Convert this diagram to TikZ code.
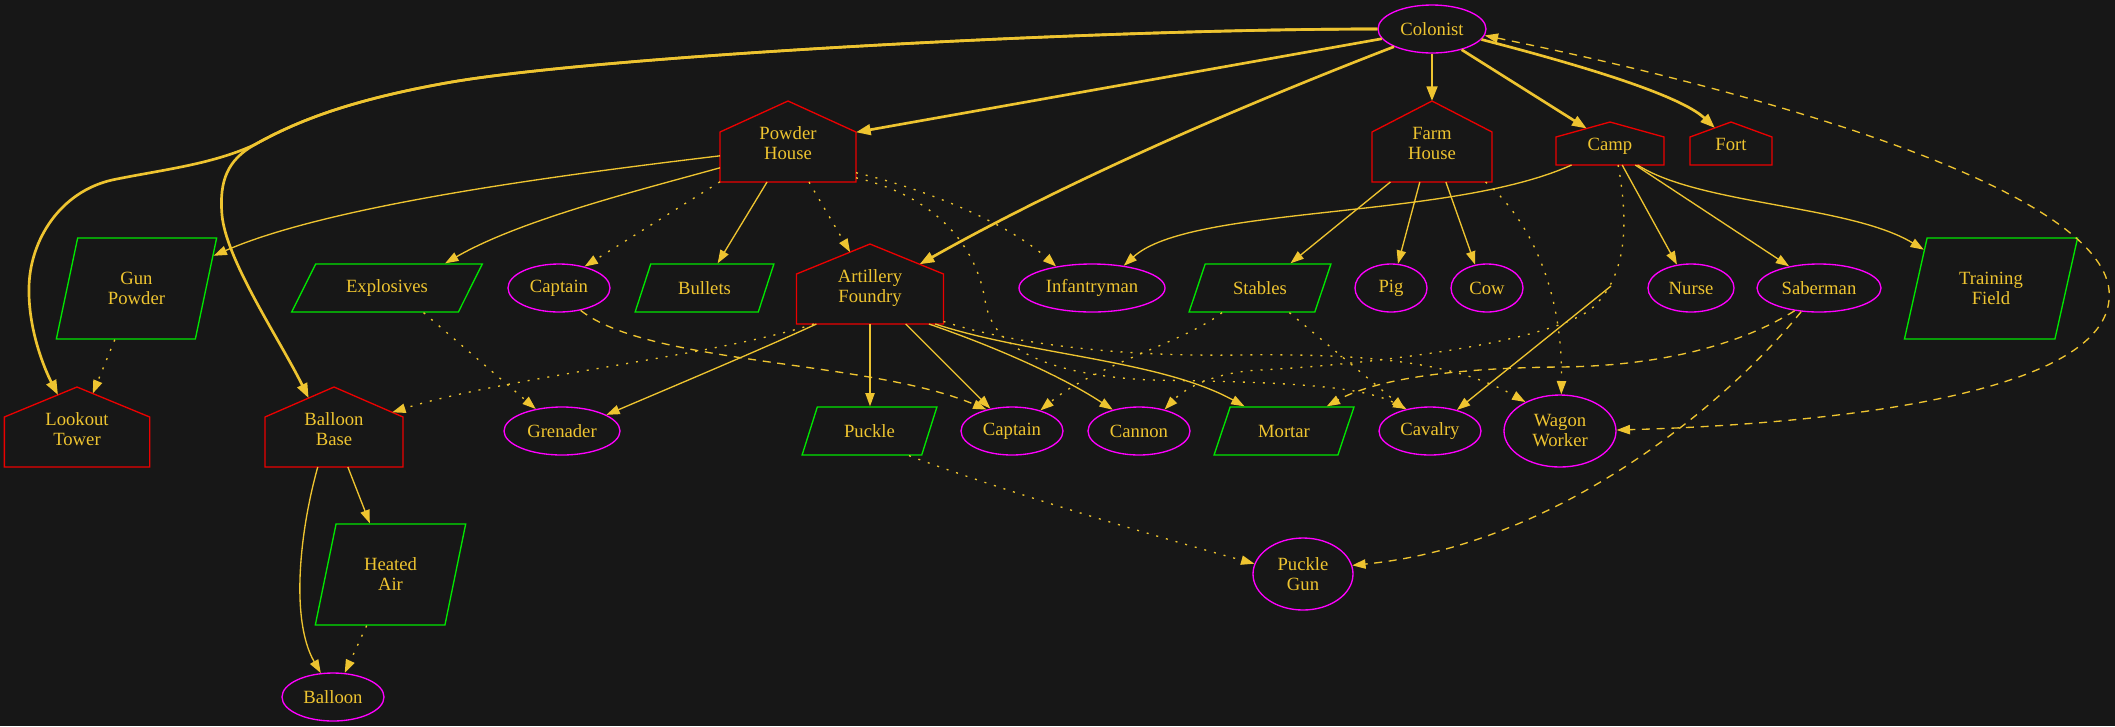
\documentclass[tikz,border=0pt]{standalone}
\usepackage{fontspec}
\setmainfont{Liberation Serif}
\usetikzlibrary{shapes.geometric,arrows.meta}

\definecolor{canvas}{RGB}{23,23,23}
\definecolor{gold}{RGB}{238,196,48}
\definecolor{ovalline}{RGB}{255,0,255}
\definecolor{houseline}{RGB}{235,0,0}
\definecolor{paraline}{RGB}{0,230,0}

% A house: walls of size minimum width x minimum height round the text,
% with a gable roof of height /pgf/house roof on top.
\makeatletter
\pgfkeys{/pgf/house roof/.initial=20pt}
\newdimen\house@xl \newdimen\house@xr \newdimen\house@xm
\newdimen\house@yb \newdimen\house@ys \newdimen\house@yp
\pgfdeclareshape{gvhouse}{%
  \savedanchor\housecenter{%
    \pgf@x=.5\wd\pgfnodeparttextbox
    \pgf@y=.5\ht\pgfnodeparttextbox
    \advance\pgf@y by -.5\dp\pgfnodeparttextbox
  }%
  \savedanchor\househalf{%
    \pgfmathsetlength\pgf@xc{\pgfkeysvalueof{/pgf/minimum width}}%
    \pgfmathsetlength\pgf@yc{\pgfkeysvalueof{/pgf/minimum height}}%
    \pgf@x=.5\pgf@xc
    \pgf@y=.5\pgf@yc
  }%
  \saveddimen\houseroof{\pgfmathsetlength\pgf@x{\pgfkeysvalueof{/pgf/house roof}}}%
  \anchor{center}{\housecenter}%
  \anchor{text}{\pgfpointorigin}%
  \anchor{north}{\househalf \pgf@ya=\pgf@y \advance\pgf@ya by\houseroof \housecenter \advance\pgf@y by\pgf@ya}%
  \anchor{south}{\househalf \pgf@ya=-\pgf@y \housecenter \advance\pgf@y by\pgf@ya}%
  \anchor{east}{\househalf \pgf@xa=\pgf@x \housecenter \advance\pgf@x by\pgf@xa}%
  \anchor{west}{\househalf \pgf@xa=-\pgf@x \housecenter \advance\pgf@x by\pgf@xa}%
  \backgroundpath{%
    \househalf \pgf@xa=\pgf@x \pgf@ya=\pgf@y
    \housecenter
    \house@xl=\pgf@x \advance\house@xl by -\pgf@xa
    \house@xr=\pgf@x \advance\house@xr by \pgf@xa
    \house@xm=\pgf@x
    \house@yb=\pgf@y \advance\house@yb by -\pgf@ya
    \house@ys=\pgf@y \advance\house@ys by \pgf@ya
    \house@yp=\house@ys \advance\house@yp by \houseroof
    \pgfpathmoveto{\pgfqpoint{\house@xl}{\house@yb}}%
    \pgfpathlineto{\pgfqpoint{\house@xr}{\house@yb}}%
    \pgfpathlineto{\pgfqpoint{\house@xr}{\house@ys}}%
    \pgfpathlineto{\pgfqpoint{\house@xm}{\house@yp}}%
    \pgfpathlineto{\pgfqpoint{\house@xl}{\house@ys}}%
    \pgfpathclose
  }%
  \anchorborder{%
    \edef\house@dx{\pgf@sys@tonumber\pgf@x}%
    \edef\house@dy{\pgf@sys@tonumber\pgf@y}%
    \househalf
    \edef\house@w{\pgf@sys@tonumber\pgf@x}%
    \edef\house@h{\pgf@sys@tonumber\pgf@y}%
    \pgf@x=\houseroof
    \edef\house@r{\pgf@sys@tonumber\pgf@x}%
    \pgfmathsetmacro\house@t{min(\house@w/max(abs(\house@dx),0.01),\house@h/max(-(\house@dy),0.01),(\house@h+\house@r)/max(\house@r*abs(\house@dx)/\house@w+\house@dy,0.01))}%
    \pgfmathsetmacro\house@px{\house@t*(\house@dx)}%
    \pgfmathsetmacro\house@py{\house@t*(\house@dy)}%
    \housecenter
    \advance\pgf@x by \house@px pt
    \advance\pgf@y by \house@py pt
  }%
}
\makeatother

% label of a house: text lifted towards the roof
\newcommand\roomlabel[2]{\raisebox{#1}[\height][\depth]{\begin{tabular}{@{}c@{}}#2\end{tabular}}}

\tikzset{
  every node/.style={text=gold, font=\fontsize{14}{15}\selectfont, inner sep=0pt, align=center},
  oval/.style={ellipse, draw=ovalline, line width=1pt, minimum height=36pt},
  housebox/.style={shape=gvhouse, draw=houseline, line width=1pt, anchor=south},
  para/.style={trapezium, trapezium stretches=true, draw=paraline, line width=1pt, minimum height=36pt},
  link/.style={draw=gold, line width=1pt, -{Triangle[length=10pt,width=7pt]}},
  heavy/.style={draw=gold, line width=2pt, -{Triangle[length=11pt,width=8pt]}},
  dotlink/.style={dash pattern=on 1.5pt off 6pt},
  dashlink/.style={dash pattern=on 6pt off 5pt},
}

\begin{document}
\begin{tikzpicture}[x=0.75pt, y=-0.75pt]
\useasboundingbox (0,0) rectangle (2115,726);
\fill[canvas] (0,0) rectangle (2115,726);

% ---------- nodes ----------
\node[oval, minimum width=81pt] (col) at (1432,29) {Colonist};

\node[housebox, minimum width=102pt, minimum height=37.5pt, house roof=23.25pt] (ph) at (788,182) {\roomlabel{8.5pt}{Powder\\House}};
\node[housebox, minimum width=90pt, minimum height=37.5pt, house roof=23.25pt] (fh) at (1432,182) {\roomlabel{8.5pt}{Farm\\House}};
\node[housebox, minimum width=81pt, minimum height=21pt, house roof=11.25pt] (camp) at (1610,165) {\roomlabel{3.75pt}{Camp}};
\node[housebox, minimum width=61.5pt, minimum height=21pt, house roof=11.25pt] (fort) at (1731,165) {\roomlabel{3.75pt}{Fort}};
\node[housebox, minimum width=110.25pt, minimum height=37.5pt, house roof=22.5pt] (af) at (870,324) {\roomlabel{8pt}{Artillery\\Foundry}};
\node[housebox, minimum width=109pt, minimum height=37.5pt, house roof=22.5pt] (lt) at (77,467) {\roomlabel{8pt}{Lookout\\Tower}};
\node[housebox, minimum width=103.5pt, minimum height=37.5pt, house roof=22.5pt] (bb) at (334,467) {\roomlabel{8pt}{Balloon\\Base}};

\node[para, minimum width=120.75pt, minimum height=75.75pt, trapezium left angle=72.4, trapezium right angle=107.6] (gp) at (136.5,288.5) {Gun\\Powder};
\node[para, minimum width=144pt, trapezium left angle=50.9, trapezium right angle=129.1] (ex) at (387,288) {Explosives};
\node[oval, minimum width=76.5pt] (cap1) at (559,288) {Captain};
\node[para, minimum width=104.25pt, trapezium left angle=59.7, trapezium right angle=120.3] (bul) at (704.5,288) {Bullets};
\node[oval, minimum width=109.5pt] (inf) at (1092,288) {Infantryman};
\node[para, minimum width=106.5pt, trapezium left angle=58.9, trapezium right angle=121.1] (stab) at (1260,288) {Stables};
\node[oval, minimum width=54pt] (pig) at (1391,288) {Pig};
\node[oval, minimum width=54pt] (cow) at (1487,288) {Cow};
\node[oval, minimum width=64.5pt] (nurse) at (1691,288) {Nurse};
\node[oval, minimum width=93pt] (sab) at (1819,288) {Saberman};
\node[para, minimum width=130.5pt, minimum height=75.75pt, trapezium left angle=70.9, trapezium right angle=109.1] (tf) at (1991,288.5) {Training\\Field};

\node[oval, minimum width=87pt] (gren) at (562,431) {Grenader};
\node[para, minimum width=101.25pt, trapezium left angle=60.6, trapezium right angle=119.4] (pk) at (869.5,431) {Puckle};
\node[oval, minimum width=76.5pt] (cap2) at (1012,431) {Captain};
\node[oval, minimum width=76.5pt] (can) at (1139,431) {Cannon};
\node[para, minimum width=105pt, trapezium left angle=58, trapezium right angle=122] (mor) at (1284,431) {Mortar};
\node[oval, minimum width=76.5pt] (cav) at (1430,431) {Cavalry};
\node[oval, minimum width=84pt, minimum height=54pt] (ww) at (1560,431) {Wagon\\Worker};

\node[para, minimum width=113.25pt, minimum height=75.75pt, trapezium left angle=73, trapezium right angle=107] (ha) at (390.5,574.5) {Heated\\Air};
\node[oval, minimum width=75pt, minimum height=54pt] (pg) at (1303,574) {Puckle\\Gun};
\node[oval, minimum width=76.5pt] (bal) at (333,697) {Balloon};

% ---------- what the colonist builds ----------
\draw[heavy] (col.180) .. controls (1100,29) and (596,56) .. (446,83)
  .. controls (340,102) and (290,125) .. (254,145)
  .. controls (210,165) and (160,170) .. (112,180)
  .. controls (60,192) and (30,240) .. (29,287)
  .. controls (28,330) and (45,370) .. (lt.112);
\draw[heavy] (col.180) .. controls (1100,29) and (596,56) .. (446,83)
  .. controls (340,102) and (290,125) .. (254,145)
  .. controls (228,160) and (219,180) .. (222,215)
  .. controls (226,260) and (280,340) .. (bb.120);
\draw[heavy] (col.191) -- (ph.20);
\draw[heavy] (col.205) .. controls (1230,110) and (1060,185) .. (af.35);
\draw[heavy] (col.south) -- (fh.north);
\draw[heavy] (col.-35) -- (camp.136);
\draw[heavy] (col.-12) .. controls (1580,65) and (1680,95) .. (fort.125);
\draw[link, dashlink, {Triangle[length=10pt,width=7pt]}-{Triangle[length=10pt,width=7pt]}]
  (col.-7) .. controls (1800,100) and (2120,200) .. (2109,300)
  .. controls (2100,400) and (1800,425) .. (ww.1);

% ---------- powder house ----------
\draw[link] (ph.179) .. controls (560,175) and (330,205) .. (gp.23);
\draw[link] (ph.189) .. controls (640,190) and (520,220) .. (ex.23);
\draw[link, dotlink] (ph.200) -- (cap1.40);
\draw[link] (ph.230) -- (bul.62);
\draw[link, dotlink] (ph.310) -- (af.113);
\draw[link, dotlink] (ph.-13) .. controls (930,190) and (1010,225) .. (inf.149);
\draw[link, dotlink] (ph.-17) .. controls (930,195) and (975,240) .. (985,300)
  .. controls (992,350) and (1050,375) .. (1150,380)
  .. controls (1280,382) and (1360,385) .. (cav.137);

% ---------- artillery foundry ----------
\draw[link, dotlink] (af.204) .. controls (720,355) and (500,378) .. (bb.27);
\draw[link] (af.205) .. controls (760,350) and (660,392) .. (gren.20);
\draw[link] (af.south) -- (af.south |- pk.north);
\draw[link] (af.-35) -- (cap2.134);
\draw[link] (af.-23) .. controls (990,345) and (1060,375) .. (can.141);
\draw[link] (af.-21) .. controls (1030,355) and (1160,360) .. (mor.148);
\draw[link, dotlink] (af.-17) .. controls (1000,340) and (1100,357) .. (1240,355)
  .. controls (1380,353) and (1460,365) .. (ww.140);

% ---------- left side ----------
\draw[link, dashlink] (cap1.-46) .. controls (650,365) and (870,360) .. (cap2.140);
\draw[link, dotlink] (ex.-34) -- (gren.140);
\draw[link, dotlink] (gp.247) -- (lt.72);
\draw[link] (bb.-61) -- (ha.112);
\draw[link] (bb.237) .. controls (300,530) and (290,620) .. (bal.117);
\draw[link, dotlink] (ha.245) -- (bal.64);
\draw[link, dotlink] (pk.-32) .. controls (1000,490) and (1150,535) .. (pg.168);

% ---------- saberman ----------
\draw[link, dashlink] (sab.233) .. controls (1730,400) and (1560,545) .. (pg.10);
\draw[link, dashlink] (sab.223) .. controls (1740,345) and (1660,366) .. (1560,367)
  .. controls (1440,368) and (1370,382) .. (mor.30);

% ---------- camp ----------
\draw[link] (camp.200) .. controls (1450,220) and (1190,205) .. (inf.35);
\draw[link] (camp.-49) -- (nurse.121);
\draw[link] (camp.-29) -- (sab.144);
\draw[link] (camp.-27) .. controls (1700,205) and (1850,205) .. (tf.150);
\draw[link, dotlink] (camp.-60) .. controls (1630,230) and (1625,280) .. (1590,310)
  .. controls (1540,345) and (1360,365) .. (1260,370)
  .. controls (1215,372) and (1185,388) .. (can.40);
\coordinate (cavtail) at (1611,286);
\draw[link] (cavtail) -- (cav.38);

% ---------- farm house ----------
\draw[link] (fh.211) -- (stab.39);
\draw[link] (fh.244) -- (pig.74);
\draw[link] (fh.-61) -- (cow.117);
\draw[link, dotlink] (fh.-25) .. controls (1530,220) and (1563,290) .. (ww.88);

% ---------- stables ----------
\draw[link, dotlink] (stab.213) .. controls (1185,342) and (1095,365) .. (cap2.36);
\draw[link, dotlink] (stab.-40) -- (cav.139);
\end{tikzpicture}
\end{document}
